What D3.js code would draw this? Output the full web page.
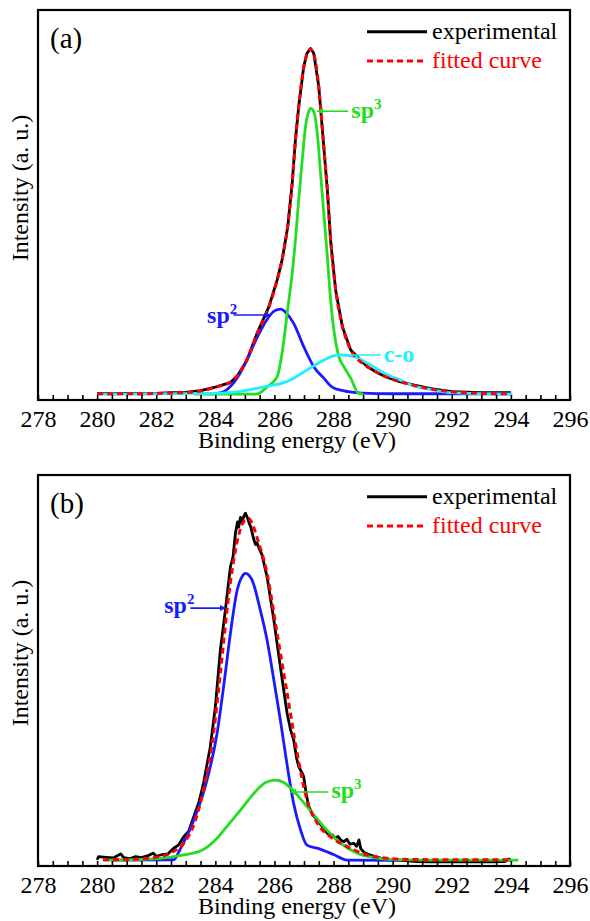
<!DOCTYPE html>
<html lang="en">
<head>
  <meta charset="UTF-8" />
  <title>C 1s XPS peak fitting</title>
  <script src="https://unpkg.com/d3@7/dist/d3.min.js"></script>
  <style>
    body { margin: 0; background: #fff; }
    svg { display: block; font-family: "Liberation Serif", "Times New Roman", serif; }
    .tick-label { font-size: 24px; fill: #000; }
    .axis-title { font-size: 24px; fill: #000; }
    .tag { font-size: 29px; fill: #000; }
    .legend-text { font-size: 24px; }
    .note { font-size: 24px; font-weight: bold; }
  </style>
</head>
<body>
<svg id="chart" width="590" height="921"></svg>

<script>
// ---- data: [binding energy (eV), intensity (a.u.)] ----
const xTickLabels = [278, 280, 282, 284, 286, 288, 290, 292, 294, 296];

// panel (a)
const expA = [[280.0,0.4],[280.5,0.3],[281.0,0.4],[281.5,0.3],[282.0,0.4],[282.5,0.6],[283.0,0.7],
  [283.5,1.2],[284.0,2.2],[284.5,3.5],[284.75,5.5],[285.07,10.0],[285.41,17.7],[285.81,25.4],
  [286.09,33.1],[286.26,38.9],[286.45,48.5],[286.60,61.0],[286.71,73.5],[286.82,83.1],[286.99,94.6],
  [287.1,98.5],[287.22,99.9],[287.33,98.5],[287.50,88.9],[287.65,73.5],[287.79,59.1],[287.90,44.6],
  [288.07,30.2],[288.30,19.6],[288.58,12.9],[289.14,8.1],[289.5,6.3],[289.82,5.0],[290.2,3.9],
  [290.74,2.8],[291.3,1.8],[292.0,0.9],[293.0,0.6],[294.0,0.6]];
const fitA = [[280.0,0.3],[280.5,0.3],[281.0,0.3],[281.5,0.3],[282.0,0.4],[282.5,0.5],[283.0,0.7],
  [283.5,1.1],[284.0,2.2],[284.5,3.6],[284.75,5.6],[285.07,10.2],[285.41,17.5],[285.81,25.2],
  [286.09,33.0],[286.26,39.0],[286.45,48.8],[286.60,61.2],[286.71,73.6],[286.82,83.0],[286.99,94.4],
  [287.1,98.4],[287.22,99.7],[287.33,98.4],[287.50,88.8],[287.65,73.6],[287.79,59.2],[287.90,44.8],
  [288.07,30.4],[288.30,19.8],[288.58,13.0],[289.14,8.2],[289.5,6.3],[289.82,5.0],[290.2,3.9],
  [290.74,2.7],[291.3,1.7],[292.0,0.9],[293.0,0.4],[294.0,0.3]];
const sp2A = [[283.8,0.2],[284.25,0.8],[284.5,2.3],[284.75,5.0],[285.07,10.0],[285.41,16.5],
  [285.81,22.5],[286.0,24.2],[286.2,24.7],[286.4,23.6],[286.65,20.6],[286.99,13.9],[287.33,8.1],
  [287.67,4.8],[287.94,2.3],[288.32,1.2],[288.96,0.5],[290.0,0.3],[294.0,0.3]];
const sp3A = [[283.3,0.2],[285.4,0.2],[285.75,2.3],[286.09,5.2],[286.2,9.0],[286.32,15.8],
  [286.43,23.5],[286.60,35.0],[286.71,44.6],[286.82,56.2],[286.94,67.7],[287.05,77.3],[287.16,81.7],
  [287.22,82.6],[287.33,81.7],[287.45,75.4],[287.56,63.9],[287.67,52.4],[287.79,39.8],[287.90,27.3],
  [288.01,18.7],[288.18,11.0],[288.35,8.1],[288.58,4.8],[288.85,0.4],[289.0,0.2]];
const coA = [[280.0,0.2],[284.0,0.4],[285.0,1.2],[285.64,2.3],[286.41,3.8],[286.54,4.3],[287.11,7.2],
  [287.67,10.0],[288.0,11.2],[288.24,11.5],[288.69,11.0],[289.25,8.6],[289.72,6.2],[290.23,4.3],
  [290.74,2.5],[291.38,1.4],[292.01,0.6],[293.03,0.3],[294.05,0.2]];

// panel (b)
const expB = [[280.0,0.3],[280.05,1.2],[280.3,1.0],[280.55,0.8],[280.7,1.5],[280.8,2.0],[280.9,0.9],
  [281.1,0.6],[281.3,1.2],[281.5,0.9],[281.7,1.4],[281.9,2.2],[282.0,1.3],[282.2,1.8],[282.4,2.0],
  [282.59,3.6],[282.75,4.5],[282.93,6.9],[283.1,8.5],[283.27,12.7],[283.45,17.0],[283.60,22.3],
  [283.83,32.8],[284.0,44.3],[284.17,60.6],[284.34,72.2],[284.51,84.6],[284.6,87.5],[284.68,94.2],
  [284.75,97.5],[284.79,96.0],[284.85,98.8],[284.9,97.5],[284.96,99.0],[285.02,100.0],[285.08,98.8],
  [285.13,97.5],[285.2,96.0],[285.3,92.5],[285.36,91.0],[285.41,91.5],[285.5,89.5],[285.58,88.0],
  [285.66,85.0],[285.75,81.7],[285.98,69.3],[286.2,55.8],[286.35,47.0],[286.43,42.4],[286.55,37.5],
  [286.65,34.8],[286.75,29.5],[286.82,27.1],[286.92,25.5],[286.99,24.2],[287.08,19.0],[287.16,15.6],
  [287.3,13.2],[287.45,11.7],[287.6,10.0],[287.79,7.9],[287.95,7.5],[288.05,6.5],[288.15,7.0],
  [288.24,6.0],[288.35,5.5],[288.45,6.2],[288.55,4.8],[288.69,5.0],[288.78,4.2],[288.86,6.0],
  [288.92,3.5],[289.03,2.4],[289.2,1.8],[289.37,1.3],[289.6,0.8],[289.93,0.3],[290.3,0.1],
  [290.8,-0.2],[291.3,-0.3],[291.8,-0.2],[292.3,-0.3],[292.8,-0.2],[293.3,-0.3],[293.8,-0.2],
  [293.95,0.5],[294.0,-0.1]];
const fitB = [[280.2,0.3],[281.0,0.4],[282.0,1.0],[282.5,2.3],[283.0,5.8],[283.3,11.0],[283.6,20.5],
  [283.94,36.7],[284.17,54.0],[284.5,79.5],[284.8,94.0],[285.0,98.0],[285.13,98.5],[285.25,97.0],
  [285.41,93.0],[285.75,82.7],[286.09,65.4],[286.43,48.2],[286.77,30.9],[287.1,17.5],[287.45,10.8],
  [287.9,6.9],[288.46,4.1],[289.14,1.7],[289.82,0.7],[290.5,0.4],[292.0,0.3],[294.0,0.3]];
const sp2B = [[280.5,0.2],[282.6,0.3],[282.76,2.5],[283.0,6.5],[283.27,11.7],[283.72,23.3],
  [284.06,36.7],[284.28,50.1],[284.51,65.4],[284.74,77.9],[284.9,81.7],[285.02,82.7],[285.24,80.8],
  [285.52,72.2],[285.75,63.5],[285.98,52.0],[286.2,40.5],[286.43,27.5],[286.65,16.5],[286.88,9.0],
  [287.1,4.5],[287.5,3.5],[288.0,1.8],[288.45,0.2],[290.1,0.1]];
const sp3B = [[280.2,0.2],[281.5,0.4],[282.14,0.7],[282.93,1.7],[283.49,2.8],[284.0,6.0],[284.4,10.0],
  [284.85,14.6],[285.41,20.4],[285.7,22.5],[286.03,23.2],[286.3,22.6],[286.54,21.0],[287.10,15.6],
  [287.67,9.8],[288.24,5.0],[288.8,2.2],[289.37,0.9],[290.0,0.4],[291.0,0.2],[294.25,0.2]];

const colors = { exp: "#000000", fit: "#ff0000", sp2: "#1a1aff", sp3: "#22dd22", co: "#22eeff" };

// ---- layout ----
const svg = d3.select("#chart");
const x = d3.scaleLinear().domain([278, 296]).range([38, 570]);

const defs = svg.append("defs");
Object.entries(colors).forEach(([k, c]) => {
  defs.append("marker")
      .attr("id", "arr-" + k)
      .attr("viewBox", "0 0 10 10")
      .attr("refX", 9).attr("refY", 5)
      .attr("markerWidth", 4).attr("markerHeight", 4)
      .attr("orient", "auto-start-reverse")
    .append("path")
      .attr("d", "M0,0 L10,5 L0,10 z")
      .attr("fill", c);
});

const panels = [
  { top: 10, bottom: 400, tag: "(a)", exp: expA, fit: fitA,
    comps: [["sp2", sp2A], ["sp3", sp3A], ["co", coA]],
    notes: [
      { key: "sp3", at: [287.45, 81.8], side: "right", len: 31, dy: 7, main: "sp", sup: "3" },
      { key: "sp2", at: [285.86, 23.0], side: "left", len: 37, dy: 8, main: "sp", sup: "2" },
      { key: "co",  at: [288.24, 11.5], side: "right", len: 40, dy: 7, main: "c-o", sup: null }
    ] },
  { top: 475, bottom: 866, tag: "(b)", exp: expB, fit: fitB,
    comps: [["sp2", sp2B], ["sp3", sp3B]],
    notes: [
      { key: "sp2", at: [284.34, 72.7], side: "left", len: 35, dy: 5, main: "sp", sup: "2" },
      { key: "sp3", at: [286.54, 19.8], side: "right", len: 38, dy: 6, main: "sp", sup: "3" }
    ] }
];

panels.forEach(drawPanel);

function drawPanel(p) {
  const y = d3.scaleLinear().domain([-1.5, 111]).range([p.bottom, p.top]);
  const g = svg.append("g");

  const smooth = d3.line()
    .x(d => x(d[0]))
    .y(d => y(d[1]))
    .curve(d3.curveMonotoneX);
  const raw = d3.line()
    .x(d => x(d[0]))
    .y(d => y(d[1]));

  // experimental
  g.append("path")
    .datum(p.exp)
    .attr("d", raw)
    .attr("fill", "none")
    .attr("stroke", colors.exp)
    .attr("stroke-width", 2.8)
    .attr("stroke-linejoin", "round");

  // fitted components
  p.comps.forEach(([k, data]) => {
    g.append("path")
      .datum(data)
      .attr("d", smooth)
      .attr("fill", "none")
      .attr("stroke", colors[k])
      .attr("stroke-width", 2.8)
      .attr("stroke-linejoin", "round");
  });

  // fitted envelope
  g.append("path")
    .datum(p.fit)
    .attr("d", smooth)
    .attr("fill", "none")
    .attr("stroke", colors.fit)
    .attr("stroke-width", 3)
    .attr("stroke-dasharray", "6,4");

  // frame
  g.append("rect")
    .attr("x", x(278)).attr("y", p.top)
    .attr("width", x(296) - x(278)).attr("height", p.bottom - p.top)
    .attr("fill", "none").attr("stroke", "#000").attr("stroke-width", 2.2);

  // x axis: inward ticks every 0.5 eV, labels every 2 eV
  const axis = g.append("g")
    .attr("transform", `translate(0,${p.bottom})`)
    .call(d3.axisBottom(x)
      .tickValues(d3.range(278, 296.01, 0.5))
      .tickSize(-5)
      .tickFormat(d => xTickLabels.includes(d) ? d : ""));
  axis.select(".domain").remove();
  axis.selectAll(".tick line").attr("stroke", "#000").attr("stroke-width", 1.6);
  axis.selectAll(".tick text")
    .attr("class", "tick-label")
    .attr("y", 27).attr("dy", null)
    .style("font-family", "Liberation Serif, serif")
    .style("font-size", "24px");

  g.append("text")
    .attr("class", "axis-title")
    .attr("x", 297).attr("y", p.bottom + 48)
    .attr("text-anchor", "middle")
    .text("Binding energy (eV)");

  g.append("text")
    .attr("class", "axis-title")
    .attr("transform", `translate(28,${p.top + 178}) rotate(-90)`)
    .attr("text-anchor", "middle")
    .text("Intensity (a. u.)");

  g.append("text")
    .attr("class", "tag")
    .attr("x", 50).attr("y", p.top + 37.5)
    .text(p.tag);

  // legend
  const lg = g.append("g").attr("transform", `translate(0,${p.top})`);
  lg.append("line")
    .attr("x1", 367).attr("x2", 427).attr("y1", 21.7).attr("y2", 21.7)
    .attr("stroke", colors.exp).attr("stroke-width", 3);
  lg.append("text").attr("class", "legend-text")
    .attr("x", 432).attr("y", 29).attr("fill", "#000")
    .text("experimental");
  lg.append("line")
    .attr("x1", 367).attr("x2", 427).attr("y1", 51).attr("y2", 51)
    .attr("stroke", colors.fit).attr("stroke-width", 3)
    .attr("stroke-dasharray", "6,4");
  lg.append("text").attr("class", "legend-text")
    .attr("x", 432).attr("y", 58).attr("fill", colors.fit)
    .text("fitted curve");

  // peak annotations
  p.notes.forEach(n => {
    const tx = x(n.at[0]), ty = y(n.at[1]);
    const dir = n.side === "right" ? 1 : -1;
    const ex = tx + dir * n.len;
    g.append("line")
      .attr("x1", ex).attr("y1", ty).attr("x2", tx).attr("y2", ty)
      .attr("stroke", colors[n.key]).attr("stroke-width", 1.6)
      .attr("marker-end", n.key === "co" ? null : `url(#arr-${n.key})`);
    const t = g.append("text")
      .attr("class", "note")
      .attr("fill", colors[n.key])
      .attr("x", n.side === "right" ? ex + 3 : ex + 4)
      .attr("y", ty + n.dy)
      .attr("text-anchor", n.side === "right" ? "start" : "end");
    t.append("tspan").text(n.main);
    if (n.sup) t.append("tspan").attr("dy", -9).attr("font-size", 15).text(n.sup);
  });
}
</script>
</body>
</html>
